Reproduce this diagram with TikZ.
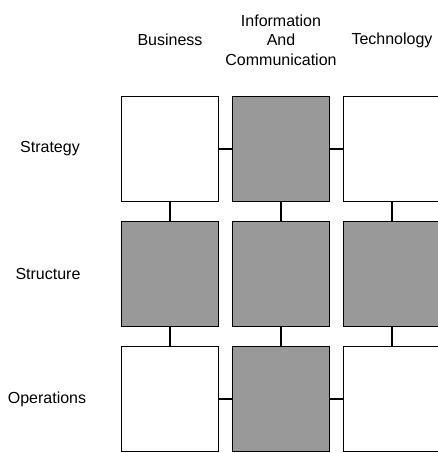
\documentclass[tikz,border=0pt]{standalone}
\usepackage{fontspec}
\setmainfont{Liberation Sans}
\definecolor{cellgray}{RGB}{153,153,153}

\begin{document}
\begin{tikzpicture}[x=0.75pt,y=-0.75pt,
    cell/.style={draw,line width=1.1pt,fill=white,minimum width=72.5pt,minimum height=78.5pt,inner sep=0pt},
    dark/.style={cell,fill=cellgray},
    head/.style={font=\fontsize{12}{14.6}\selectfont,align=center},
    link/.style={line width=1pt}]
  \useasboundingbox (0,0) rectangle (438,453);

  % grid of boxes
  \foreach \r/\c/\s/\x/\y in {1/1/cell/170/149, 1/2/dark/281/149, 1/3/cell/392/149,
                              2/1/dark/170/274, 2/2/dark/281/274, 2/3/dark/392/274,
                              3/1/cell/170/399, 3/2/dark/281/399, 3/3/cell/392/399}{
    \node[\s] (C\r\c) at (\x,\y) {};
  }

  % connectors
  \foreach \c in {1,2,3}{
    \draw[link] (C1\c.south) -- (C2\c.north);
    \draw[link] (C2\c.south) -- (C3\c.north);
  }
  \foreach \r in {1,3}{
    \draw[link] (C\r1.east) -- (C\r2.west);
    \draw[link] (C\r2.east) -- (C\r3.west);
  }

  % headings
  \node[head] (business) at (170,40) {Business};
  \node[head] (ict) at (281,40) {Information\\And\\Communication};
  \node[head] (tech) at (392,40) {Technology};
  \node[head] (strategy) at (50,149) {Strategy};
  \node[head] (structure) at (48,274) {Structure};
  \node[head] (operations) at (47,399) {Operations};
\end{tikzpicture}
\end{document}
